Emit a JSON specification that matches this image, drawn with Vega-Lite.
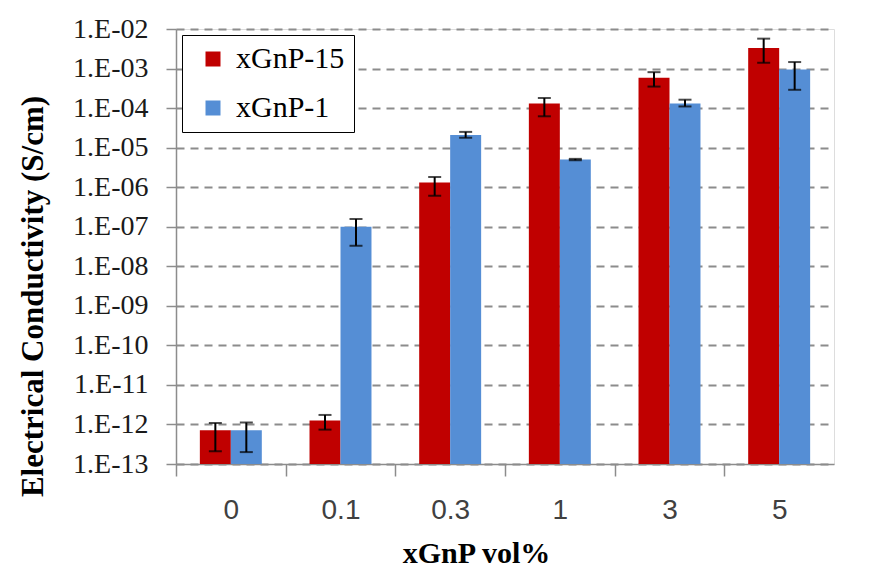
{
  "$schema": "https://vega.github.io/schema/vega-lite/v6.json",
  "width": 658,
  "height": 435,
  "autosize": {"type": "none"},
  "padding": {"left": 176, "top": 29, "right": 35, "bottom": 110},
  "background": "white",
  "config": {
    "legend": {"strokeColor": "black", "fillColor": "white"}
  },
  "data": {
    "values": [
      {"vol": "0", "series": "xGnP-15", "value": 7.1e-13, "lo": 2.1e-13, "hi": 1.09e-12},
      {"vol": "0", "series": "xGnP-1", "value": 7.1e-13, "lo": 2.0e-13, "hi": 1.12e-12},
      {"vol": "0.1", "series": "xGnP-15", "value": 1.26e-12, "lo": 7.4e-13, "hi": 1.74e-12},
      {"vol": "0.1", "series": "xGnP-1", "value": 1.0e-7, "lo": 3.3e-8, "hi": 1.57e-7},
      {"vol": "0.3", "series": "xGnP-15", "value": 1.32e-6, "lo": 6.1e-7, "hi": 1.8e-6},
      {"vol": "0.3", "series": "xGnP-1", "value": 2.08e-5, "lo": 1.78e-5, "hi": 2.5e-5},
      {"vol": "1", "series": "xGnP-15", "value": 1.31e-4, "lo": 6.2e-5, "hi": 1.8e-4},
      {"vol": "1", "series": "xGnP-1", "value": 5.0e-6, "lo": 4.8e-6, "hi": 5.2e-6},
      {"vol": "3", "series": "xGnP-15", "value": 5.85e-4, "lo": 3.5e-4, "hi": 8.1e-4},
      {"vol": "3", "series": "xGnP-1", "value": 1.31e-4, "lo": 1.1e-4, "hi": 1.63e-4},
      {"vol": "5", "series": "xGnP-15", "value": 3.3e-3, "lo": 1.4e-3, "hi": 5.7e-3},
      {"vol": "5", "series": "xGnP-1", "value": 9.5e-4, "lo": 2.9e-4, "hi": 1.46e-3}
    ]
  },
  "encoding": {
    "x": {
      "field": "vol",
      "type": "nominal",
      "sort": ["0", "0.1", "0.3", "1", "3", "5"],
      "scale": {"paddingInner": 0.435, "paddingOuter": 0.2175},
      "axis": {
        "title": "xGnP vol%",
        "titleFont": "Times New Roman, Liberation Serif, serif",
        "titleFontWeight": "bold",
        "titleFontSize": 30,
        "titleColor": "black",
        "titleX": 300,
        "titleY": 89,
        "titleBaseline": "middle",
        "titleAlign": "center",
        "labelAngle": 0,
        "labelFont": "Liberation Sans",
        "labelFontSize": 28,
        "labelColor": "#404040",
        "labelPadding": 20,
        "labelBaseline": "top",
        "tickOffset": -54.8,
        "labelOffset": 54.8,
        "tickSize": 12,
        "tickColor": "#8c8c8c",
        "tickWidth": 1.5,
        "domainColor": "#8c8c8c",
        "domainWidth": 1.5,
        "grid": false
      }
    },
    "xOffset": {
      "field": "series",
      "type": "nominal",
      "sort": ["xGnP-15", "xGnP-1"],
      "scale": {"paddingInner": 0, "paddingOuter": 0}
    }
  },
  "layer": [
    {
      "mark": {"type": "bar"},
      "encoding": {
        "y": {
          "field": "value",
          "type": "quantitative",
          "scale": {"type": "log", "domain": [1e-13, 1e-2], "nice": false},
          "axis": {
            "title": "Electrical Conductivity (S/cm)",
            "titleFont": "Times New Roman, Liberation Serif, serif",
            "titleFontWeight": "bold",
            "titleFontSize": 31,
            "titleColor": "black",
            "titleAngle": 270,
            "titleX": -143,
            "titleY": 267,
            "titleAlign": "center",
            "titleBaseline": "middle",
            "values": [1e-13, 1e-12, 1e-11, 1e-10, 1e-9, 1e-8, 1e-7, 1e-6, 1e-5, 1e-4, 1e-3, 1e-2],
            "labelExpr": "'1.E-' + (abs(round(log(datum.value)/LN10)) < 10 ? '0' : '') + abs(round(log(datum.value)/LN10))",
            "labelFont": "Times New Roman, Liberation Serif, serif",
            "labelFontSize": 28,
            "labelColor": "#1a1a1a",
            "labelPadding": 18,
            "tickSize": 10,
            "tickColor": "#8c8c8c",
            "tickWidth": 1.5,
            "domainColor": "#8c8c8c",
            "domainWidth": 1.5,
            "grid": true,
            "gridColor": "#8c8c8c",
            "gridWidth": 2,
            "gridDash": [8, 6]
          }
        },
        "y2": {"datum": 1e-13},
        "color": {
          "field": "series",
          "type": "nominal",
          "sort": ["xGnP-15", "xGnP-1"],
          "scale": {"domain": ["xGnP-15", "xGnP-1"], "range": ["#C00000", "#558ED5"]},
          "legend": {
            "title": null,
            "orient": "none",
            "legendX": 6,
            "legendY": 6,
            "padding": 9,
            "symbolOffset": 7,
            "symbolType": "square",
            "symbolSize": 225,
            "symbolStrokeWidth": 0,
            "labelFont": "Times New Roman, Liberation Serif, serif",
            "labelFontSize": 30,
            "labelColor": "black",
            "labelOffset": 8,
            "rowPadding": 19
          }
        }
      }
    },
    {
      "mark": {"type": "rule", "color": "black", "strokeWidth": 2},
      "encoding": {
        "y": {"field": "lo", "type": "quantitative"},
        "y2": {"field": "hi"}
      }
    },
    {
      "mark": {"type": "tick", "color": "black", "thickness": 2, "size": 13, "orient": "horizontal"},
      "encoding": {"y": {"field": "lo", "type": "quantitative"}}
    },
    {
      "mark": {"type": "tick", "color": "black", "thickness": 2, "size": 13, "orient": "horizontal"},
      "encoding": {"y": {"field": "hi", "type": "quantitative"}}
    }
  ]
}
